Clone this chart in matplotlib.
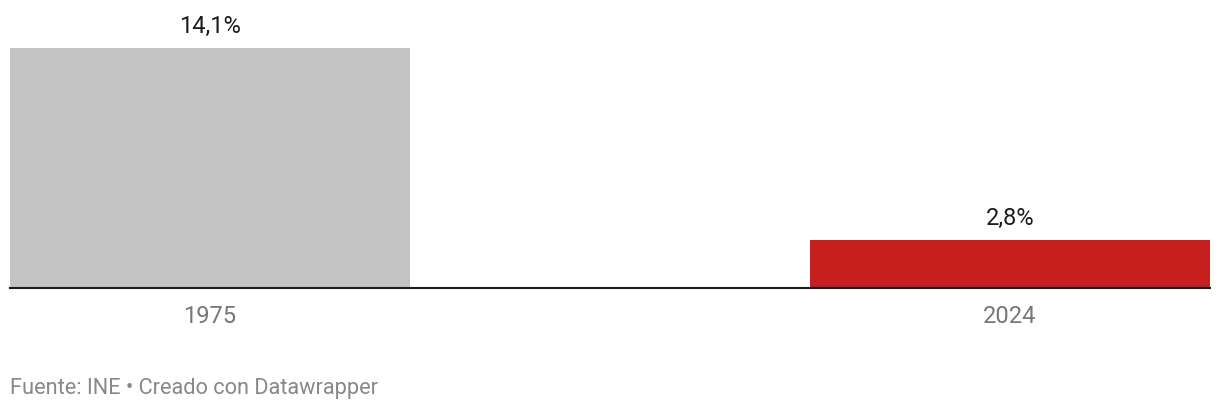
import matplotlib
matplotlib.use("Agg")
import matplotlib.pyplot as plt

# data
years = ["1975", "2024"]
values = [14.1, 2.8]
labels = ["14,1%", "2,8%"]
colors = ["#c4c4c4", "#c71e1e"]

plt.rcParams['font.family'] = ['Roboto', 'DejaVu Sans']

W, H = 1220, 410
fig = plt.figure(figsize=(W / 100, H / 100), dpi=100)
ax = fig.add_axes([10 / W, 121.5 / H, 1200 / W, 240 / H])

x = list(range(len(years)))
ax.bar(x, values, width=0.5, color=colors, zorder=2)
ax.set_xlim(-0.25, len(years) - 0.75)
ax.set_ylim(0, max(values))

# value labels above bars, year labels below
for xi, v, lab in zip(x, values, labels):
    ax.annotate(lab, xy=(xi, v), xytext=(0, 11.5), textcoords="offset points",
                ha="center", va="baseline", fontsize=17, color="#1d1d1d",
                annotation_clip=False)
    ax.annotate(years[xi], xy=(xi, 0), xytext=(0, -24.5), textcoords="offset points",
                ha="center", va="baseline", fontsize=17, color="#777777",
                annotation_clip=False)

# baseline
ax.axhline(0, color="#1d1d1d", linewidth=1.5, zorder=3, clip_on=False)

ax.set_xticks([])
ax.set_yticks([])
for s in ax.spines.values():
    s.set_visible(False)

fig.text(10 / W, 16 / H, "Fuente: INE • Creado con Datawrapper",
         ha="left", va="baseline", fontsize=15.7, color="#888888")

fig.savefig("out.png", dpi=100)
